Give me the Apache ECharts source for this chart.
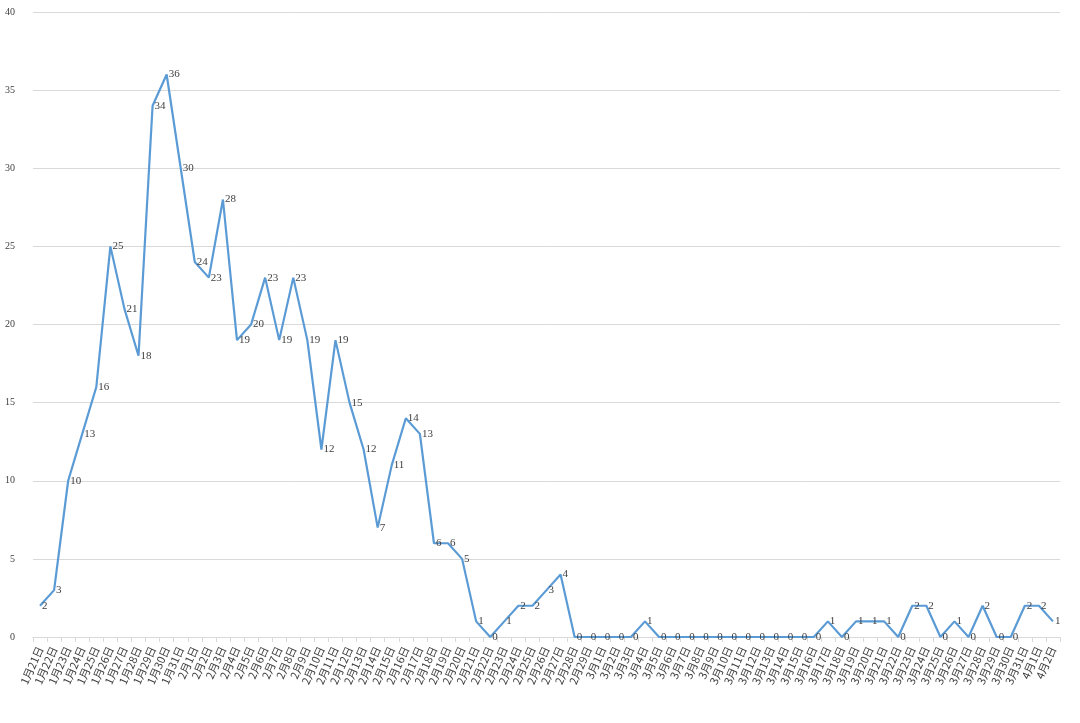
<!DOCTYPE html>
<html><head><meta charset="utf-8">
<script src="https://cdn.jsdelivr.net/npm/echarts@6/dist/echarts.min.js"></script>
<style>html,body{margin:0;padding:0;background:#fff}#c{width:1080px;height:723px}</style>
</head><body><div id="c"></div>
<script>
const categories = [
 '1月21日','1月22日','1月23日','1月24日','1月25日','1月26日','1月27日','1月28日','1月29日','1月30日','1月31日',
 '2月1日','2月2日','2月3日','2月4日','2月5日','2月6日','2月7日','2月8日','2月9日','2月10日','2月11日','2月12日','2月13日','2月14日','2月15日','2月16日','2月17日','2月18日','2月19日','2月20日','2月21日','2月22日','2月23日','2月24日','2月25日','2月26日','2月27日','2月28日','2月29日',
 '3月1日','3月2日','3月3日','3月4日','3月5日','3月6日','3月7日','3月8日','3月9日','3月10日','3月11日','3月12日','3月13日','3月14日','3月15日','3月16日','3月17日','3月18日','3月19日','3月20日','3月21日','3月22日','3月23日','3月24日','3月25日','3月26日','3月27日','3月28日','3月29日','3月30日','3月31日',
 '4月1日','4月2日'];
const values = [
 2,3,10,13,16,25,21,18,34,36,30,
 24,23,28,19,20,23,19,23,19,12,19,15,12,7,11,14,13,6,6,5,1,0,1,2,2,3,4,0,0,
 0,0,0,1,0,0,0,0,0,0,0,0,0,0,0,0,1,0,1,1,1,0,2,2,0,1,0,2,0,0,2,
 2,1];
const yTicks = [0,5,10,15,20,25,30,35,40];
const chart = echarts.init(document.getElementById('c'));
const font = 'Liberation Serif, DejaVu Serif Condensed, serif';
chart.setOption({
  animation:false,
  grid:{left:33,right:20,top:12,bottom:86,containLabel:false},
  xAxis:{type:'category',data:categories,boundaryGap:true,
    axisLine:{lineStyle:{color:'#d9d9d9'}},
    axisTick:{show:true,alignWithLabel:false,lineStyle:{color:'#d9d9d9'}},
    axisLabel:{interval:0,rotate:66,fontSize:11,color:'#404040',fontFamily:'Noto Sans CJK SC, sans-serif',margin:10}},
  yAxis:{type:'value',min:yTicks[0],max:yTicks[yTicks.length-1],interval:5,
    axisLine:{show:false},axisTick:{show:false},
    splitLine:{lineStyle:{color:'#d9d9d9'}},
    axisLabel:{fontSize:10,color:'#404040',fontFamily:font,margin:18}},
  series:[{type:'line',data:values,symbol:'circle',symbolSize:0,showSymbol:true,
    itemStyle:{color:'#5b9bd5'},
    lineStyle:{color:'#5b9bd5',width:2.2},
    labelLayout:{hideOverlap:false},
    label:{show:true,position:'right',distance:2,fontSize:11,color:'#404040',fontFamily:font}}]
});
</script></body></html>
